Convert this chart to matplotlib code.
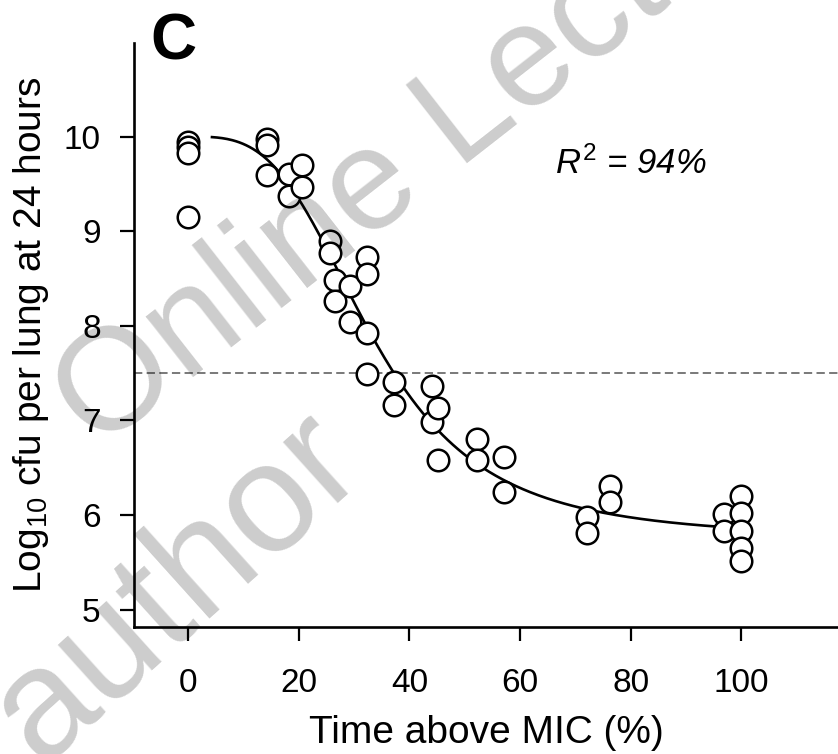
import numpy as np
import matplotlib.pyplot as plt

plt.rcParams['font.family'] = ['Liberation Sans', 'DejaVu Sans']
plt.rcParams['mathtext.fontset'] = 'custom'
plt.rcParams['mathtext.rm'] = 'Liberation Sans'
plt.rcParams['mathtext.it'] = 'Liberation Sans:italic'

# % time above MIC and log10 cfu per lung at 24 h for each animal
time_above_mic = [0, 0, 0, 0,
                  14.3, 14.3, 14.3,
                  18.3, 18.3,
                  20.6, 20.6,
                  25.6, 25.6,
                  26.5, 26.5,
                  29.3, 29.3,
                  32.3, 32.3, 32.3, 32.3,
                  37.3, 37.3,
                  44.1, 44.1,
                  45.1, 45.1,
                  52.3, 52.3,
                  57.1, 57.1,
                  72.2, 72.2,
                  76.2, 76.2,
                  96.8, 96.8,
                  99.9, 99.9, 99.9, 99.9, 99.9]
log_cfu = [9.94, 9.89, 9.83, 9.15,
           9.97, 9.91, 9.59,
           9.61, 9.37,
           9.70, 9.47,
           8.90, 8.77,
           8.49, 8.26,
           8.42, 8.04,
           8.73, 8.55, 7.92, 7.49,
           7.41, 7.16,
           7.36, 6.98,
           7.13, 6.58,
           6.80, 6.58,
           6.61, 6.24,
           5.98, 5.81,
           6.31, 6.14,
           6.01, 5.83,
           6.20, 6.02, 5.83, 5.65, 5.51]

# sigmoid Emax fit
fit_top = 10.0
fit_bottom = 5.75
fit_ec50 = 33.4
fit_hill = 3.3
fit_range = (4.3, 96.7)

stasis_level = 7.5
r_squared = 94
xticks = [0, 20, 40, 60, 80, 100]
yticks = [5, 6, 7, 8, 9, 10]

W, H = 838, 754
fig = plt.figure(figsize=(W / 100, H / 100), dpi=100)
ax = fig.add_axes([134 / W, 1 - 626.7 / H, (W - 134) / W, (626.7 - 43) / H])

ax.axhline(stasis_level, color='#6e6e6e', lw=1.3, ls=(0, (4.6, 2.4)), zorder=1)

xs = np.linspace(fit_range[0], fit_range[1], 300)
ys = fit_bottom + (fit_top - fit_bottom) / (1 + (xs / fit_ec50) ** fit_hill)
ax.plot(xs, ys, color='black', lw=1.9, zorder=2)

ax.plot(time_above_mic, log_cfu, 'o', ms=15.5, mfc='white', mec='black',
        mew=1.8, zorder=3, clip_on=False)

ax.set_xlim(-9.8, 117.5)
ax.set_ylim(4.82, 10.99)
ax.set_xticks(xticks)
ax.set_yticks(yticks)
for s in ['top', 'right']:
    ax.spines[s].set_visible(False)
for s in ['left', 'bottom']:
    ax.spines[s].set_linewidth(1.9)
ax.tick_params(axis='both', direction='out', length=10, width=1.6, labelsize=24)
ax.tick_params(axis='x', pad=20)
ax.tick_params(axis='y', pad=14)

ax.set_xlabel('Time above MIC (%)', fontsize=28, labelpad=11)
ax.set_ylabel(r'Log$_{\mathregular{10}}$ cfu per lung at 24 hours', fontsize=28, labelpad=9)

ax.text(66.4, 9.61, rf'$\mathit{{R^2}}$ = {r_squared}%', fontsize=25, style='italic',
        ha='left', va='baseline')

fig.text(173.5 / W, 1 - 43 / H, 'C', fontsize=46, fontweight='bold',
         ha='center', va='center')

# watermark overlay
wm = dict(color='black', alpha=0.2, rotation_mode='anchor',
          ha='left', va='baseline', zorder=10)
fig.text(97 / W, 1 - 452 / H, 'Online Lecture', rotation=38, fontsize=104, **wm)
fig.text(40 / W, 1 - 766 / H, 'author', rotation=42, fontsize=112, **wm)

fig.savefig('out.png', dpi=100)
